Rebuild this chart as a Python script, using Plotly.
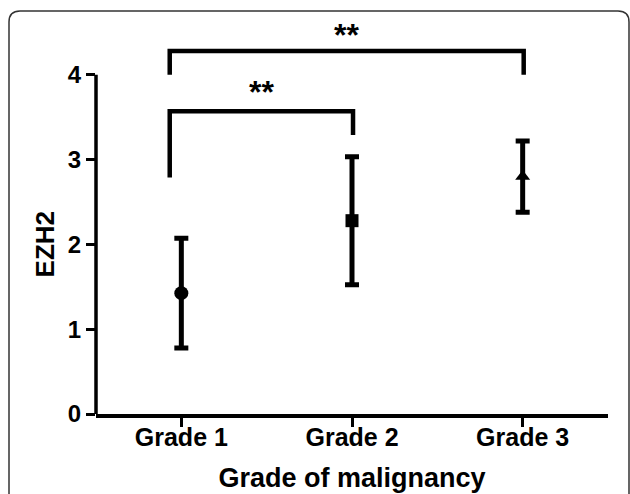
import plotly.graph_objects as go

# ---- data ----
categories = ["Grade 1", "Grade 2", "Grade 3"]
means = [1.425, 2.28, 2.80]
errors = [0.648, 0.755, 0.42]
symbols = ["circle", "square", "triangle-up"]
marker_sizes = [14, 13, 13]

# significance brackets: (left category index, right category index)
bracket_left = [0, 0]
bracket_right = [1, 2]
bracket_top = [3.57, 4.28]
bracket_left_bottom = [2.79, 4.0]
bracket_right_bottom = [3.29, 4.0]
bracket_labels = ["**", "**"]
label_y = [3.83, 4.50]

y_ticks = [0, 1, 2, 3, 4]

# ---- layout constants (pixels) ----
W, H = 630, 494
L, R, T, B = 96, 22, 7, 80
PW, PH = W - L - R, H - T - B
FONT = "Arial, Liberation Sans, sans-serif"

fig = go.Figure()

for i, c in enumerate(categories):
    fig.add_trace(go.Scatter(
        x=[i], y=[means[i]], mode="markers",
        marker=dict(symbol=symbols[i], size=marker_sizes[i], color="black",
                    line=dict(width=0)),
        error_y=dict(type="data", array=[errors[i]], color="black",
                     thickness=5, width=7),
        showlegend=False, hoverinfo="skip"))

leg_off = -0.068
for k in range(len(bracket_left)):
    xl = bracket_left[k] + leg_off
    xr = bracket_right[k] + 0.006
    fig.add_trace(go.Scatter(
        x=[xl, xl, xr, xr],
        y=[bracket_left_bottom[k], bracket_top[k], bracket_top[k], bracket_right_bottom[k]],
        mode="lines", line=dict(color="black", width=4.5),
        showlegend=False, hoverinfo="skip"))
    fig.add_annotation(
        x=(xl + xr) / 2, y=label_y[k], xref="x", yref="y",
        text="<b>" + bracket_labels[k] + "</b>", showarrow=False,
        font=dict(family=FONT, size=32, color="black"), yshift=-3)

# y-axis title as annotation centered at y=2
fig.add_annotation(
    x=(45 - L) / PW, y=2, xref="paper", yref="y", text="<b>EZH2</b>",
    xanchor="center", yanchor="middle",
    textangle=-90, showarrow=False,
    font=dict(family=FONT, size=26, color="black"))

# y-axis line from 0 to 4
fig.add_shape(type="line", xref="paper", yref="y", x0=0, x1=0,
              y0=0, y1=4, line=dict(color="black", width=3.5))

# rounded outer frame
def px(xp):
    return (xp - L) / PW

def py(yp):
    return (H - B - yp) / PH

x0, x1, y0, y1 = 9, 629, 11, 505
r = 11
path = (f"M {px(x0)},{py(y1)} L {px(x0)},{py(y0 + r)} "
        f"Q {px(x0)},{py(y0)} {px(x0 + r)},{py(y0)} "
        f"L {px(x1 - r)},{py(y0)} Q {px(x1)},{py(y0)} {px(x1)},{py(y0 + r)} "
        f"L {px(x1)},{py(y1)}")
fig.add_shape(type="path", xref="paper", yref="paper", path=path,
              line=dict(color="#333333", width=1.5))

fig.update_layout(
    width=W, height=H,
    margin=dict(l=L, r=R, t=T, b=B),
    plot_bgcolor="white", paper_bgcolor="white",
    font=dict(family=FONT, color="black"),
    xaxis=dict(
        range=[-0.5, 2.5], tickvals=[0, 1, 2],
        ticktext=["<b>" + c + "</b>" for c in categories],
        showline=True, linecolor="black", linewidth=3.5,
        ticks="outside", ticklen=9, tickwidth=3, tickcolor="black",
        ticklabelstandoff=-11, automargin=False,
        tickfont=dict(family=FONT, size=25, color="black"),
        showgrid=False, zeroline=False,
        title=dict(text="<b>Grade of malignancy</b>",
                   font=dict(family=FONT, size=27, color="black"), standoff=19)),
    yaxis=dict(
        range=[0, 4.8], tickvals=y_ticks,
        ticktext=["<b>" + str(v) + "</b>" for v in y_ticks],
        showline=False, ticks="outside", ticklen=9, tickwidth=3,
        tickcolor="black", automargin=False,
        tickfont=dict(family=FONT, size=24, color="black"),
        showgrid=False, zeroline=False),
)

fig.write_html("out.html", config={"displayModeBar": False},
               post_script="document.body.style.margin='0px';")
